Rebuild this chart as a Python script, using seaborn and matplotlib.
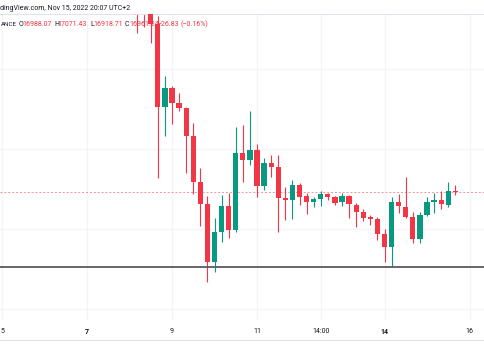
import matplotlib
matplotlib.use("Agg")
import matplotlib.pyplot as plt
from matplotlib.lines import Line2D
import numpy as np
import pandas as pd
import seaborn as sns

# 4-hour candles, BTC/USDT (Binance), Nov 8 04:00 -> Nov 15 16:00, 2022
candle_time = pd.date_range("2022-11-08 04:00", "2022-11-15 16:00", freq="4h")
opens = [20018, 19942, 19867, 19504, 18251, 18538, 18311, 18236, 17813, 17119,
         16786, 15911, 16364, 16756, 16394, 17556, 17451, 17602, 17058, 17405,
         17345, 16877, 16847, 17073, 16907, 16817, 16862, 16937, 16892, 16817,
         16907, 16771, 16666, 16590, 16560, 16333, 16137, 16817, 16741, 16590,
         16258, 16620, 16817, 16847, 16771, 16988.07]
highs = [20320, 20169, 19942, 19625, 18719, 18568, 18462, 18251, 18009, 17330,
         16907, 16575, 16922, 16952, 17949, 17979, 18191, 17692, 17481, 17526,
         17526, 17043, 17149, 17103, 16952, 16892, 16983, 16952, 16900, 16952,
         16922, 16801, 16711, 16620, 16590, 16409, 16892, 16937, 17194, 16666,
         16666, 16892, 16952, 16983, 17119, 17071.43]
lows = [19368, 19459, 19217, 17179, 17813, 17994, 18191, 17254, 16937, 16454,
        15609, 15760, 16213, 16273, 16364, 17119, 17375, 16892, 16998, 17194,
        16364, 16545, 16560, 16771, 16635, 16741, 16756, 16847, 16771, 16756,
        16575, 16439, 16530, 16469, 16243, 15911, 15835, 16650, 16580, 16197,
        16197, 16605, 16650, 16711, 16741, 16918.71]
closes = [19791, 19746, 19504, 18251, 18538, 18311, 18236, 17813, 17119, 16786,
          15911, 16364, 16756, 16394, 17556, 17451, 17602, 17058, 17405, 17345,
          16877, 16847, 17073, 16892, 16817, 16862, 16937, 16892, 16801, 16907,
          16786, 16666, 16575, 16560, 16333, 16137, 16817, 16756, 16590, 16258,
          16620, 16817, 16847, 16786, 16983, 16961.24]

last_price = 16961.24
support_level = 15835

tick_days = [5, 7, 9, 11, 12.5, 14, 16]
tick_labels = ["5", "7", "9", "11", "14:00", "14", "16"]
bold_ticks = ["7", "14"]

header_text = "dingView.com, Nov 15, 2022 20:07 UTC+2"
legend_parts = [("ANCE", "dark"), ("O", "dark"), ("16988.07", "red"), ("H", "dark"),
                ("17071.43", "red"), ("L", "dark"), ("16918.71", "red"), ("C", "dark"),
                ("16961.24", "red"), ("\u221226.83", "red"), ("(\u22120.16%)", "red")]
legend_x_px = [0.5, 18.5, 22, 54, 57.5, 90, 93.5, 125, 129, 157, 181]

# ---------------------------------------------------------------
sns.set_theme(style="white")
plt.rcParams["font.family"] = ["Roboto", "DejaVu Sans"]

RED = "#F23645"
GREEN = "#089981"
DARK = "#131722"

df = pd.DataFrame({"time": candle_time, "open": opens, "high": highs,
                   "low": lows, "close": closes})
df["day"] = (df["time"] - pd.Timestamp("2022-11-01")) / pd.Timedelta(days=1) + 1
df["up"] = df["close"] >= df["open"]
df["color"] = np.where(df["up"], GREEN, RED)
df["body_lo"] = df[["open", "close"]].min(axis=1)
df["body_h"] = (df["close"] - df["open"]).abs().clip(lower=8)

W, H = 485, 360
fig = plt.figure(figsize=(W / 100, H / 100), dpi=100)
fig.patch.set_facecolor("white")
pane_top, pane_bot = 14, 320
ax = fig.add_axes([0, (H - pane_bot) / H, 1, (pane_bot - pane_top) / H])
ax.set_facecolor("white")

# scale: 42.5 px per day, Nov 9 00:00 at x=172 ; 15.1 $ per px, 16960 at y=192.5
x0 = 9 - 172 / 42.5
x1 = 9 + (W - 172) / 42.5
ax.set_xlim(x0, x1)
ax.set_ylim(16960 - (pane_bot - 192.5) * 15.1, 16960 + (192.5 - pane_top) * 15.1)

# grid
for d in tick_days:
    ax.axvline(d, color="#F2F4F9", lw=0.9, zorder=0)
for ypx in [69, 149, 229, 309]:
    ax.axhline(16960 + (192.5 - ypx) * 15.1, color="#F2F4F9", lw=0.9, zorder=0)

# wicks and bodies
ax.vlines(df["day"], df["low"], df["high"], colors=df["color"], lw=0.8, zorder=2)
ax.bar(df["day"], df["body_h"], bottom=df["body_lo"], width=0.125,
       color=df["color"], linewidth=0, zorder=3)

# price lines
ax.axhline(last_price, color=RED, lw=0.7, ls=(0, (2, 2)), alpha=0.55, zorder=1)
ax.axhline(support_level, color="#5b5b5b", lw=1.3, zorder=4)

ax.set_xticks(tick_days)
ax.set_xticklabels(tick_labels)
for lab in ax.get_xticklabels():
    lab.set_fontsize(5)
    lab.set_color(DARK)
    if lab.get_text() in bold_ticks:
        lab.set_fontweight("bold")
ax.tick_params(axis="x", length=0, pad=6)
ax.set_yticks([])
for side in ["left", "right", "bottom"]:
    ax.spines[side].set_visible(False)
ax.spines["top"].set_color("#E0E3EB")
ax.spines["top"].set_linewidth(0.8)

fig.add_artist(Line2D([0, 1], [(H - 340) / H] * 2, color="#E0E3EB", lw=0.8))

fig.text(0.5 / W, 1 - 8 / H, header_text, fontsize=5, color=DARK, va="center", ha="left")
for i, ((txt, col), xp) in enumerate(zip(legend_parts, legend_x_px)):
    fig.text(xp / W, 1 - 24 / H, txt, fontsize=4.5 if i == 0 else 5,
             va="center", ha="left",
             color=RED if col == "red" else DARK, zorder=10)

fig.savefig("out.png", dpi=100, facecolor="white")
